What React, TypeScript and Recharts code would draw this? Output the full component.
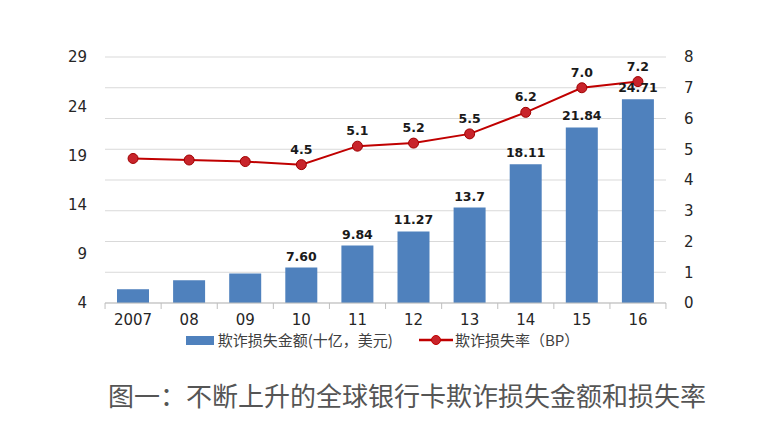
import React from "react";
import {
  ComposedChart,
  Bar,
  Line,
  XAxis,
  YAxis,
  CartesianGrid,
  Legend,
  LabelList,
} from "recharts";

const YEARS = ["2007", "08", "09", "10", "11", "12", "13", "14", "15", "16"];
const LOSS_AMOUNT = [5.4, 6.3, 7.0, 7.6, 9.84, 11.27, 13.7, 18.11, 21.84, 24.71];
const LOSS_AMOUNT_LABELS = ["", "", "", "7.60", "9.84", "11.27", "13.7", "18.11", "21.84", "24.71"];
const LOSS_RATE = [4.7, 4.65, 4.6, 4.5, 5.1, 5.2, 5.5, 6.2, 7.0, 7.2];
const LOSS_RATE_LABELS = ["", "", "", "4.5", "5.1", "5.2", "5.5", "6.2", "7.0", "7.2"];
const LEFT_TICKS = [4, 9, 14, 19, 24, 29];
const RIGHT_TICKS = [0, 1, 2, 3, 4, 5, 6, 7, 8];

const BAR_NAME = "欺诈损失金额(十亿，美元)";
const LINE_NAME = "欺诈损失率（BP）";
const TITLE = "图一：不断上升的全球银行卡欺诈损失金额和损失率";

const BLUE = "#4F81BD";
const RED = "#C00000";
const NUM_FONT = "'DejaVu Sans', Verdana, sans-serif";
const CJK_FONT = "'Noto Sans CJK SC', 'Noto Sans', sans-serif";

const data = YEARS.map((year, i) => ({
  year,
  amount: LOSS_AMOUNT[i],
  amountLabel: LOSS_AMOUNT_LABELS[i],
  rate: LOSS_RATE[i],
  rateLabel: LOSS_RATE_LABELS[i],
}));

// x tick: label plus a small mark on the band edge (Excel style)
const XTick = (props: any) => {
  const { x, y, payload, index } = props;
  const half = 28;
  return (
    <g>
      <line x1={x - half} x2={x - half} y1={y - 8} y2={y - 2} stroke="#bfbfbf" />
      {index === YEARS.length - 1 && (
        <line x1={x + half} x2={x + half} y1={y - 8} y2={y - 2} stroke="#bfbfbf" />
      )}
      <text x={x} y={y + 14} textAnchor="middle" fill="#262626" fontSize={15} fontFamily={NUM_FONT}>
        {payload.value}
      </text>
    </g>
  );
};

const LegendContent = () => (
  <div
    style={{
      display: "flex",
      justifyContent: "center",
      alignItems: "center",
      fontFamily: CJK_FONT,
      fontSize: 15,
      lineHeight: "16px",
      color: "#404040",
    }}
  >
    <span style={{ display: "inline-block", width: 28, height: 9, background: BLUE, marginRight: 4 }} />
    <span>{BAR_NAME}</span>
    <svg width={34} height={12} style={{ marginLeft: 26, marginRight: 2 }}>
      <line x1={0} x2={34} y1={6} y2={6} stroke={RED} strokeWidth={2.5} />
      <circle cx={17} cy={6} r={4.5} fill="#C8242B" stroke={RED} />
    </svg>
    <span>{LINE_NAME}</span>
  </div>
);

export default function App() {
  return (
    <div style={{ position: "absolute", left: 0, top: 0, width: 765, height: 431, background: "#fff" }}>
      <ComposedChart
        width={765}
        height={360}
        data={data}
        margin={{ top: 57, right: 0, left: 0, bottom: 4 }}
      >
        <CartesianGrid yAxisId="right" vertical={false} stroke="#d9d9d9" />
        <XAxis
          dataKey="year"
          height={29}
          axisLine={{ stroke: "#bfbfbf" }}
          tickLine={false}
          tick={<XTick />}
          interval={0}
        />
        <YAxis
          yAxisId="left"
          width={105}
          domain={[4, 29]}
          ticks={LEFT_TICKS}
          axisLine={false}
          tickLine={false}
          tickMargin={12}
          tick={{ fill: "#262626", fontSize: 15, fontFamily: NUM_FONT }}
        />
        <YAxis
          yAxisId="right"
          orientation="right"
          width={99}
          domain={[0, 8]}
          ticks={RIGHT_TICKS}
          axisLine={false}
          tickLine={false}
          tickMargin={12}
          tick={{ fill: "#262626", fontSize: 15, fontFamily: NUM_FONT }}
        />
        <Legend verticalAlign="bottom" height={24} content={<LegendContent />} />
        <Bar yAxisId="left" dataKey="amount" name={BAR_NAME} fill={BLUE} barSize={32} isAnimationActive={false}>
          <LabelList
            dataKey="amountLabel"
            position="top"
            offset={7}
            fill="#1a1a1a"
            fontSize={12.5}
            fontWeight="bold"
            fontFamily={NUM_FONT}
          />
        </Bar>
        <Line
          yAxisId="right"
          dataKey="rate"
          name={LINE_NAME}
          stroke={RED}
          strokeWidth={2}
          dot={{ r: 5, fill: "#C8242B", stroke: "#A00000", strokeWidth: 1 }}
          isAnimationActive={false}
        >
          <LabelList
            dataKey="rateLabel"
            position="top"
            offset={11}
            fill="#1a1a1a"
            fontSize={12.5}
            fontWeight="bold"
            fontFamily={NUM_FONT}
          />
        </Line>
      </ComposedChart>
      <div
        style={{
          position: "absolute",
          left: 108,
          top: 376,
          fontFamily: CJK_FONT,
          fontSize: 26,
          color: "#555",
          whiteSpace: "nowrap",
        }}
      >
        {TITLE}
      </div>
    </div>
  );
}
